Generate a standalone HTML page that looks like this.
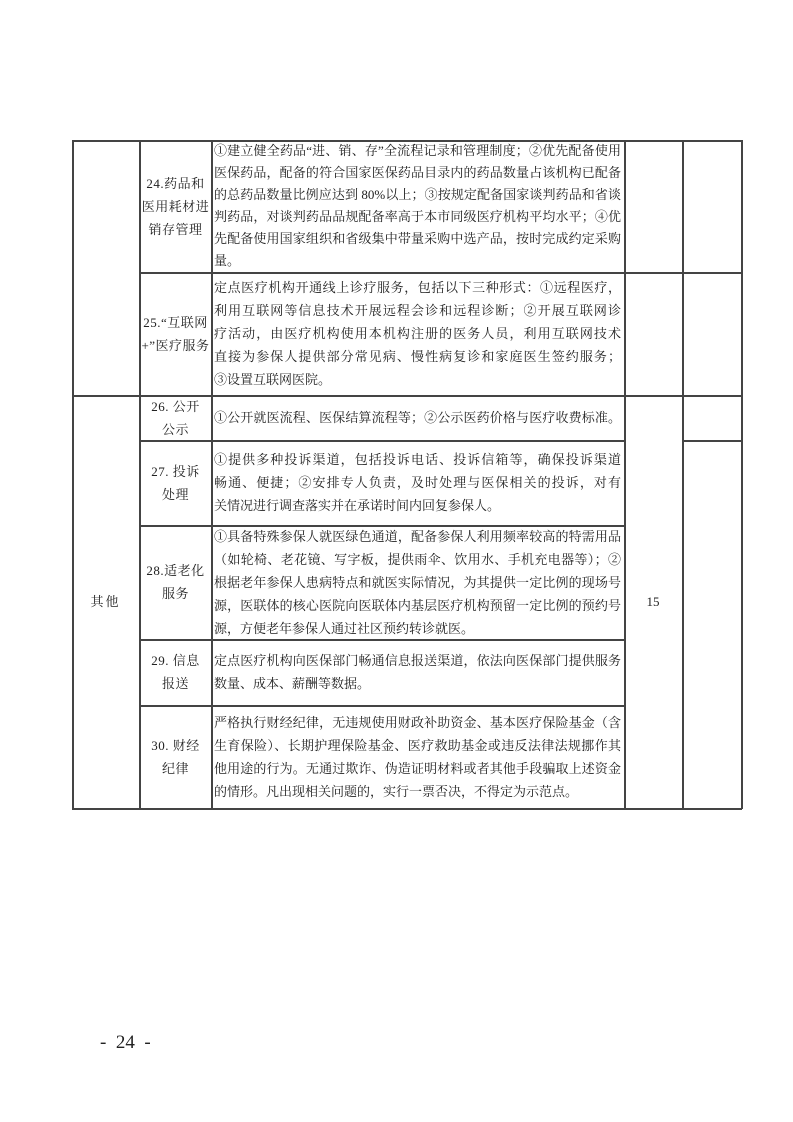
<!DOCTYPE html>
<html><head><meta charset="utf-8"><style>
body{margin:0;background:#fff;}
#p{position:relative;width:793px;height:1122px;background:#fff;font-family:"Liberation Serif","Noto Serif CJK SC","Noto Sans CJK SC",serif;color:#222;}
.h{position:absolute;height:1.5px;background:#444;}
.v{position:absolute;width:1.5px;background:#444;}
.c{position:absolute;display:flex;flex-direction:column;justify-content:center;font-size:13px;line-height:23px;}
.t .l{text-align:justify;text-align-last:justify;white-space:nowrap;overflow:visible;}
.t .l.e{text-align-last:left;}
.t{left:214px;width:407px;}
.n{left:140px;width:71px;text-align:center;letter-spacing:0.5px;white-space:nowrap;}
</style></head><body><div id="p">
<div class="h" style="left:72px;width:670px;top:140px"></div>
<div class="h" style="left:139px;width:603px;top:272px"></div>
<div class="h" style="left:72px;width:670px;top:395px"></div>
<div class="h" style="left:139px;width:485px;top:440px"></div>
<div class="h" style="left:682px;width:60px;top:440px"></div>
<div class="h" style="left:139px;width:485px;top:525px"></div>
<div class="h" style="left:139px;width:485px;top:639px"></div>
<div class="h" style="left:139px;width:485px;top:705px"></div>
<div class="h" style="left:72px;width:670px;top:808px"></div>
<div class="v" style="left:72px;top:140px;height:669px"></div>
<div class="v" style="left:139px;top:140px;height:669px"></div>
<div class="v" style="left:211px;top:140px;height:669px"></div>
<div class="v" style="left:624px;top:140px;height:669px"></div>
<div class="v" style="left:682px;top:140px;height:669px"></div>
<div class="v" style="left:741px;top:140px;height:669px"></div>

<div class="c n" style="top:140px;height:132px"><div>24.药品和</div><div>医用耗材进</div><div>销存管理</div></div>
<div class="c t" style="top:140px;height:132px;line-height:22px">
<div class="l">①建立健全药品“进、销、存”全流程记录和管理制度；②优先配备使用</div>
<div class="l">医保药品，配备的符合国家医保药品目录内的药品数量占该机构已配备</div>
<div class="l">的总药品数量比例应达到 80%以上；③按规定配备国家谈判药品和省谈</div>
<div class="l">判药品，对谈判药品品规配备率高于本市同级医疗机构平均水平；④优</div>
<div class="l">先配备使用国家组织和省级集中带量采购中选产品，按时完成约定采购</div>
<div class="l e">量。</div></div>

<div class="c n" style="top:272px;height:123px"><div>25.“互联网</div><div>+”医疗服务</div></div>
<div class="c t" style="top:272px;height:123px">
<div class="l">定点医疗机构开通线上诊疗服务，包括以下三种形式：①远程医疗，</div>
<div class="l">利用互联网等信息技术开展远程会诊和远程诊断；②开展互联网诊</div>
<div class="l">疗活动，由医疗机构使用本机构注册的医务人员，利用互联网技术</div>
<div class="l">直接为参保人提供部分常见病、慢性病复诊和家庭医生签约服务；</div>
<div class="l e">③设置互联网医院。</div></div>

<div class="c" style="left:72px;width:67px;top:395px;height:413px;align-items:center;letter-spacing:2px">其他</div>
<div class="c" style="left:624px;width:58px;top:395px;height:413px;align-items:center">15</div>

<div class="c n" style="top:395px;height:45px"><div>26. 公开</div><div>公示</div></div>
<div class="c t" style="top:395px;height:45px"><div class="l">①公开就医流程、医保结算流程等；②公示医药价格与医疗收费标准。</div></div>

<div class="c n" style="top:440px;height:85px"><div>27. 投诉</div><div>处理</div></div>
<div class="c t" style="top:440px;height:85px">
<div class="l">①提供多种投诉渠道，包括投诉电话、投诉信箱等，确保投诉渠道</div>
<div class="l">畅通、便捷；②安排专人负责，及时处理与医保相关的投诉，对有</div>
<div class="l e">关情况进行调查落实并在承诺时间内回复参保人。</div></div>

<div class="c n" style="top:525px;height:114px"><div>28.适老化</div><div>服务</div></div>
<div class="c t" style="top:525px;height:114px">
<div class="l">①具备特殊参保人就医绿色通道，配备参保人利用频率较高的特需用品</div>
<div class="l">（如轮椅、老花镜、写字板，提供雨伞、饮用水、手机充电器等）；②</div>
<div class="l">根据老年参保人患病特点和就医实际情况，为其提供一定比例的现场号</div>
<div class="l">源，医联体的核心医院向医联体内基层医疗机构预留一定比例的预约号</div>
<div class="l e">源，方便老年参保人通过社区预约转诊就医。</div></div>

<div class="c n" style="top:639px;height:66px"><div>29. 信息</div><div>报送</div></div>
<div class="c t" style="top:639px;height:66px">
<div class="l">定点医疗机构向医保部门畅通信息报送渠道，依法向医保部门提供服务</div>
<div class="l e">数量、成本、薪酬等数据。</div></div>

<div class="c n" style="top:705px;height:103px"><div>30. 财经</div><div>纪律</div></div>
<div class="c t" style="top:705px;height:103px">
<div class="l">严格执行财经纪律，无违规使用财政补助资金、基本医疗保险基金（含</div>
<div class="l">生育保险）、长期护理保险基金、医疗救助基金或违反法律法规挪作其</div>
<div class="l">他用途的行为。无通过欺诈、伪造证明材料或者其他手段骗取上述资金</div>
<div class="l e">的情形。凡出现相关问题的，实行一票否决，不得定为示范点。</div></div>

<div style="position:absolute;left:100px;top:1032px;font-size:19px;white-space:pre">-  24  -</div>
</div></body></html>
